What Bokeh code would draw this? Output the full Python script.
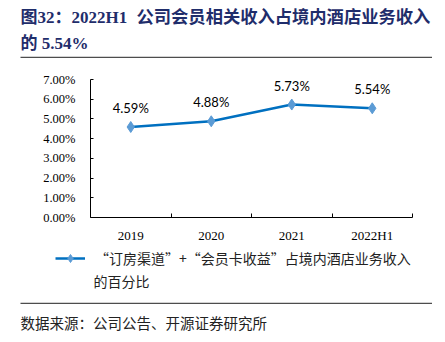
from bokeh.plotting import figure
from bokeh.models import (Range1d, FixedTicker, Legend, LegendItem,
                          ColumnDataSource, LabelSet, Label)
from bokeh.layouts import column
from bokeh.core.properties import value
from bokeh.embed import file_html
from bokeh.resources import INLINE

categories = ["2019", "2020", "2021", "2022H1"]
values = [4.59, 4.88, 5.73, 5.54]
value_labels = ["4.59%", "4.88%", "5.73%", "5.54%"]
y_ticks = [0, 1, 2, 3, 4, 5, 6, 7]
y_tick_labels = ["0.00%", "1.00%", "2.00%", "3.00%", "4.00%", "5.00%", "6.00%", "7.00%"]
title_line1a = "图32：2022H1"
title_line1b = "公司会员相关收入占境内酒店业务收入"
title_line2 = "的 5.54%"
legend_line1 = "“订房渠道”+“会员卡收益”占境内酒店业务收入"
legend_line2 = "的百分比"
source_text = "数据来源：公司公告、开源证券研究所"

W = 445
TOP_H, MAIN_H, LEG_H, SRC_H = 60, 185, 57, 40
LINE_COLOR = "#0070C0"
MARK_COLOR = "#5B9BD5"
RULE_COLOR = "#4D4D4D"
TITLE_FONT = "'Liberation Serif', 'Noto Sans CJK SC', serif"
CJK_FONT = "'Noto Sans CJK SC', sans-serif"
FAR = [-1000.0, -999.0]


def blank_fig(h):
    f = figure(width=W, height=h, output_backend="svg", toolbar_location=None,
               x_range=Range1d(0, 1), y_range=Range1d(0, 1),
               x_axis_type=None, y_axis_type=None, min_border=0, margin=0,
               frame_align=False)
    f.outline_line_color = None
    f.grid.grid_line_color = None
    f.background_fill_color = "white"
    f.border_fill_color = "white"
    return f


def add_text(f, h, text, cx, cy, font, size, color, bold=False):
    f.add_layout(Label(x=cx, y=h - cy, x_units="screen", y_units="screen",
                       text=text, text_font=font, text_font_size=size,
                       text_color=color, text_align="left", text_baseline="middle",
                       text_font_style="bold" if bold else "normal"))


def add_rule(f, h, cy):
    # horizontal separator from x=20 to x=432, drawn as a legend glyph
    r = f.line(x=FAR, y=FAR, line_color=RULE_COLOR, line_width=1.6)
    f.add_layout(Legend(items=[LegendItem(label=" ", renderers=[r])],
                        location=(20, h - cy - 1), orientation="vertical",
                        glyph_width=412, glyph_height=2, label_height=2, label_width=0,
                        label_standoff=0, padding=0, margin=0, spacing=0,
                        border_line_color=None, background_fill_alpha=0,
                        label_text_font_size="1px"))


# ---- title block ----
top = blank_fig(TOP_H)
add_text(top, TOP_H, title_line1a, 20, 17, TITLE_FONT, "17px", "#1F2D6B", True)
add_text(top, TOP_H, title_line1b, 136, 17, TITLE_FONT, "17.3px", "#1F2D6B", True)
add_text(top, TOP_H, title_line2, 20, 43, TITLE_FONT, "17px", "#1F2D6B", True)
add_rule(top, TOP_H, 57)

# ---- main chart ----
p = figure(width=W, height=MAIN_H, output_backend="svg", toolbar_location=None,
           x_range=Range1d(0, len(categories)), y_range=Range1d(0, 7),
           min_border_left=90, min_border_right=33, min_border_top=19, min_border_bottom=28,
           margin=0, frame_align=False)
p.outline_line_color = None
p.grid.grid_line_color = None
p.background_fill_color = "white"
p.border_fill_color = "white"

xs = [i + 0.5 for i in range(len(categories))]
src = ColumnDataSource(dict(x=xs, y=values, lab=value_labels))

p.line("x", "y", source=src, line_color=LINE_COLOR, line_width=2.5)
p.scatter("x", "y", source=src, marker="diamond", size=11,
          fill_color=MARK_COLOR, line_color=MARK_COLOR)

p.add_layout(LabelSet(x="x", y="y", text="lab", source=src, y_offset=19,
                      text_align="center", text_baseline="middle",
                      text_font=value("Lato"), text_font_size="13px", text_color="#000000"))

ya = p.yaxis[0]
ya.ticker = FixedTicker(ticks=y_ticks)
ya.major_label_overrides = {t: s for t, s in zip(y_ticks, y_tick_labels)}
ya.major_tick_in = 3
ya.major_tick_out = 0
ya.minor_tick_line_color = None
ya.major_label_standoff = 15
ya.major_label_text_font = "Liberation Serif"
ya.major_label_text_font_size = "12.5px"
ya.major_label_text_color = "#000000"
ya.axis_line_color = "#000000"
ya.major_tick_line_color = "#000000"

xa = p.xaxis[0]
xa.ticker = FixedTicker(ticks=xs, minor_ticks=[i + 1 for i in range(len(categories))])
xa.major_label_overrides = {x: c for x, c in zip(xs, categories)}
xa.major_tick_in = 0
xa.major_tick_out = 0
xa.minor_tick_in = 4
xa.minor_tick_out = 0
xa.minor_tick_line_color = "#000000"
xa.major_label_standoff = 10
xa.major_label_text_font = "Liberation Serif"
xa.major_label_text_font_size = "13px"
xa.major_label_text_color = "#000000"
xa.axis_line_color = "#000000"

# ---- legend block ----
leg = blank_fig(LEG_H)
leg_line = leg.line(x=FAR, y=FAR, line_color=LINE_COLOR, line_width=2.5)
leg_mark = leg.scatter(x=FAR, y=FAR, marker="diamond", size=11,
                       fill_color=MARK_COLOR, line_color=MARK_COLOR)
leg.add_layout(Legend(items=[LegendItem(label=legend_line1, renderers=[leg_line, leg_mark])],
                      location=(55, LEG_H - 23), orientation="vertical",
                      glyph_width=30, glyph_height=20, label_height=20, label_standoff=10,
                      padding=0, margin=0, spacing=0,
                      border_line_color=None, background_fill_alpha=0,
                      label_text_font="Noto Sans CJK SC", label_text_font_size="14px",
                      label_text_color="#222222"))
add_text(leg, LEG_H, legend_line2, 93, 35, CJK_FONT, "14px", "#222222")

# ---- source block ----
srcfig = blank_fig(SRC_H)
add_rule(srcfig, SRC_H, 1)
add_text(srcfig, SRC_H, source_text, 20, 20, CJK_FONT, "14.5px", "#222222")

layout = column(top, p, leg, srcfig, spacing=0, margin=0)
open("out.html", "w").write(file_html(layout, INLINE))
